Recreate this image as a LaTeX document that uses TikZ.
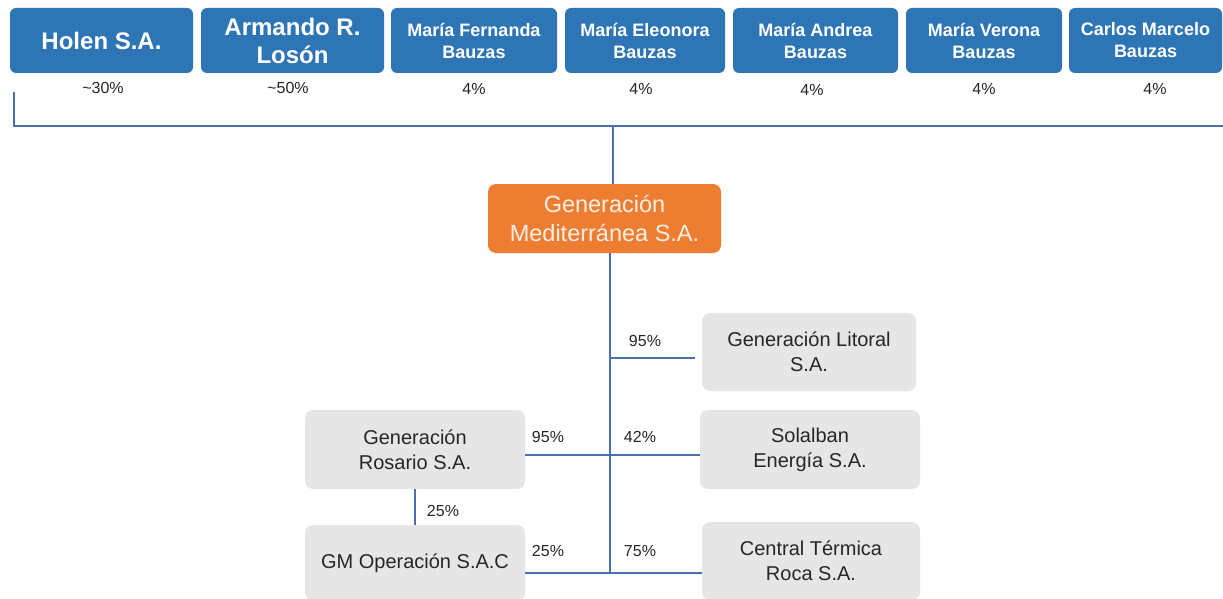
\documentclass[tikz,border=0pt]{standalone}
\usepackage{fontspec}
\setmainfont{Liberation Sans}
\definecolor{ownblue}{HTML}{2E75B6}
\definecolor{genorange}{HTML}{ED7D31}
\definecolor{firmgray}{HTML}{E6E6E6}
\definecolor{textgray}{HTML}{262626}
\definecolor{linkblue}{HTML}{4A6FB0}

\begin{document}
\begin{tikzpicture}[x=1pt,y=-1pt]
	\tikzset{owner/.style={fill=ownblue, rounded corners=6pt, text=white, align=center, inner sep=0pt, minimum height=65pt, font=\fontsize{18}{22}\selectfont\bfseries}}
	\tikzset{big/.style={font=\fontsize{24}{28}\selectfont\bfseries}}
	\tikzset{firm/.style={fill=firmgray, rounded corners=8pt, text=textgray, align=center, inner sep=0pt, font=\fontsize{20}{25}\selectfont}}
	\tikzset{pct/.style={text=textgray, inner sep=0pt, font=\fontsize{16}{18}\selectfont}}
	\tikzset{link/.style={draw=linkblue, line width=1.3pt}}

	\useasboundingbox[fill=white] (0,0) rectangle (1223,599);

	    \node[owner, big, minimum width=183pt] (o1) at (101.5,40.5) {Holen S.A.};
	    \node[owner, big, minimum width=183pt] (o2) at (292.5,40.5) {Armando R.\\Losón};
	    \node[owner, minimum width=166pt] (o3) at (474,40.5) {María Fernanda\\Bauzas};
	    \node[owner, minimum width=160pt] (o4) at (645,40.5) {María Eleonora\\Bauzas};
	    \node[owner, minimum width=165pt] (o5) at (815.5,40.5) {María Andrea\\Bauzas};
	    \node[owner, minimum width=156pt] (o6) at (984,40.5) {María Verona\\Bauzas};
	    \node[owner, minimum width=153pt] (o7) at (1145.5,40.5) {Carlos Marcelo\\Bauzas};

	    \node[pct] (p1) at (103,88) {\textasciitilde30\%};
	    \node[pct] (p2) at (288,88) {\textasciitilde50\%};
	    \node[pct] (p3) at (474,89) {4\%};
	    \node[pct] (p4) at (641,89) {4\%};
	    \node[pct] (p5) at (812,90) {4\%};
	    \node[pct] (p6) at (984,89) {4\%};
	    \node[pct] (p7) at (1155,89) {4\%};

	    \coordinate (c1) at (14,92);
	    \coordinate (c2) at (14,126);
	    \coordinate (c3) at (1223,126);
	    \coordinate (c4) at (613,126);
	    \draw[link] (c1) -- (c2) -- (c3);

	    \node[fill=genorange, rounded corners=8pt, text=white!88!genorange, align=center, inner sep=0pt, minimum width=233pt, minimum height=69pt, font=\fontsize{23.5}{29}\selectfont] (gen) at (604.5,218.5) {Generación\\Mediterránea S.A.};
	    \draw[link] (c4) -- (gen.north -| c4);

	\begin{scope}
	    \node[firm, minimum width=214pt, minimum height=78pt] (lit) at (809,352) {Generación Litoral\\S.A.};
	    \node[firm, minimum width=220pt, minimum height=79pt] (sol) at (810,449.5) {Solalban\\Energía S.A.};
	    \node[firm, minimum width=218pt, minimum height=78pt] (cen) at (811,561) {Central Térmica\\Roca S.A.};
	    \node[firm, minimum width=220pt, minimum height=79pt] (ros) at (415,449.5) {Generación\\Rosario S.A.};
	    \node[firm, minimum width=220pt, minimum height=76pt] (gm) at (415,563) {GM Operación S.A.C};

	    \coordinate (s1) at (610,253);
	    \coordinate (s2) at (610,573);
	    \draw[link] (gen.south -| s1) -- (s2);
	    \draw[link] ([yshift=-6pt]lit.west -| s1) -- ([xshift=-7pt,yshift=-6pt]lit.west);
	    \draw[link] ([yshift=-5.5pt]ros.east) -- ([yshift=-5.5pt]sol.west);
	    \draw[link] (ros.south) -- (gm.north);
	    \draw[link] ([yshift=-10pt]gm.east) -- ([yshift=-10pt]gm.east -| cen.west);

	    \node[pct] (q1) at (645,341) {95\%};
	    \node[pct] (q2) at (548,437) {95\%};
	    \node[pct] (q3) at (640,437) {42\%};
	    \node[pct] (q4) at (443,511) {25\%};
	    \node[pct] (q5) at (548,551) {25\%};
	    \node[pct] (q6) at (640,551) {75\%};
	\end{scope}

\end{tikzpicture}
\end{document}
